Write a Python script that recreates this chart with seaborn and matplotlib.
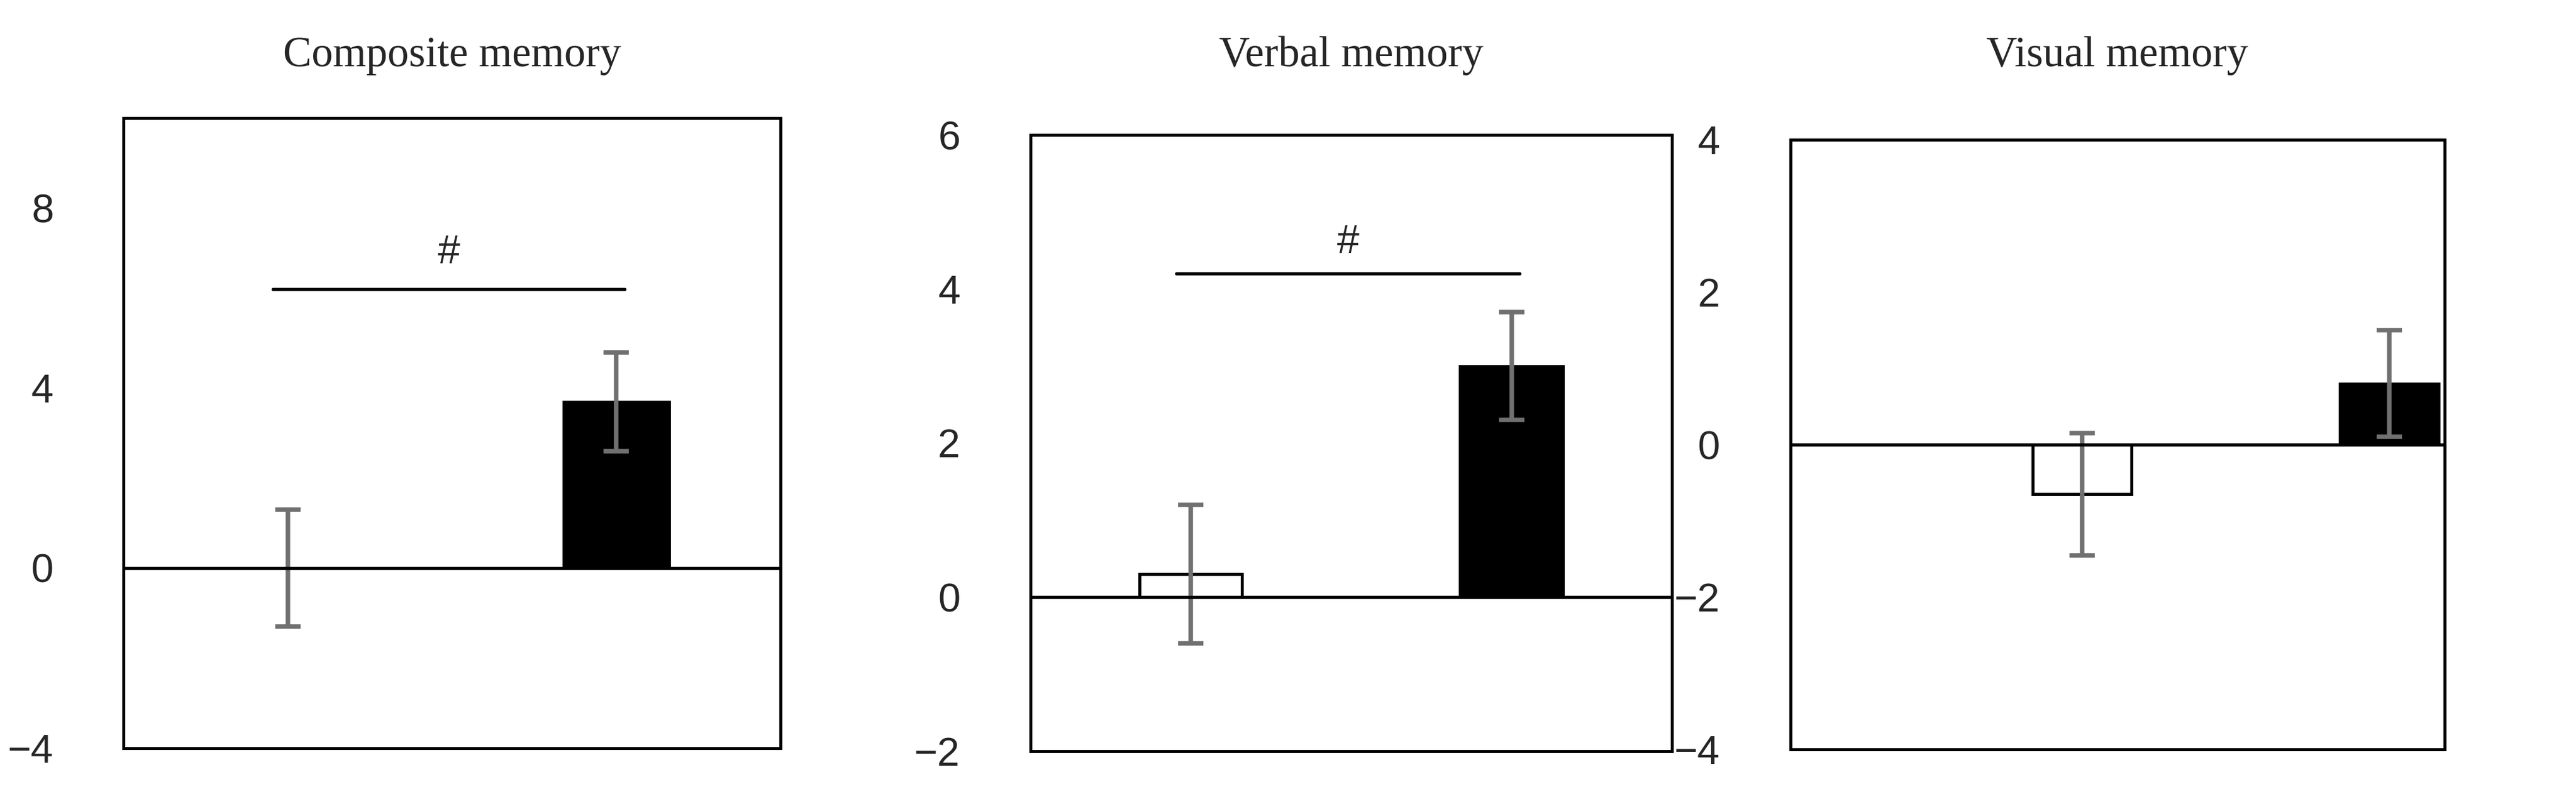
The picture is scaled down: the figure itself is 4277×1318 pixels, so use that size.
import matplotlib
matplotlib.use("Agg")
import matplotlib.pyplot as plt
import seaborn as sns
import pandas as pd

groups = ["Control", "Intervention"]
titles = ["Composite memory", "Verbal memory", "Visual memory"]
means = [[0.0, 3.7], [0.3, 3.0], [-0.65, 0.8]]
errors = [[1.3, 1.1], [0.9, 0.7], [0.8, 0.7]]
ylims = [(-4, 10), (-2, 6), (-4, 4)]
yticks = [[-4, 0, 4, 8], [-2, 0, 2, 4, 6], [-4, -2, 0, 2, 4]]
sig = [(6.2, 7.0), (4.2, 4.6), None]

sns.set_style("white")
fig = plt.figure(figsize=(4277/300, 1318/300), dpi=300)
rects = [[0.048, 0.058, 0.255, 0.793], [0.400, 0.054, 0.249, 0.776], [0.695, 0.056, 0.254, 0.768]]
xlims = [(-0.5, 1.5), (-0.5, 1.5), (-0.95, 1.18)]

for i in range(3):
    ax = fig.add_axes(rects[i])
    df = pd.DataFrame({"g": groups, "v": means[i]})
    sns.barplot(data=df, x="g", y="v", hue="g", palette=["white", "black"], edgecolor="black",
                linewidth=1.2, width=0.32, ax=ax, legend=False, errorbar=None)
    ax.errorbar([0, 1], means[i], yerr=errors[i], fmt="none", ecolor="#707070", elinewidth=1.8, capsize=5, capthick=1.8)
    ax.axhline(0, color="black", lw=1.3)
    ax.set_xlim(*xlims[i]); ax.set_ylim(*ylims[i])
    ax.set_yticks(yticks[i])
    ax.set_yticklabels([str(t).replace("-", "\u2212") for t in yticks[i]], fontsize=16, family="Liberation Sans")
    ax.set_xticks([]); ax.set_xlabel(""); ax.set_ylabel("")
    ax.tick_params(axis="y", length=0, pad=28)
    for s in ax.spines.values():
        s.set_color("black"); s.set_linewidth(1.2); s.set_visible(True)
    if sig[i]:
        ax.plot([-0.045, 1.025], [sig[i][0]]*2, color="black", lw=1.3)
        ax.text(0.49, sig[i][1], "#", ha="center", va="center", fontsize=16, family="Liberation Sans")
    fig.text(rects[i][0] + rects[i][2]/2, 0.93, titles[i], ha="center", va="center", fontsize=17, family="Liberation Serif")

fig.savefig("out.png", dpi=300, facecolor="white")
